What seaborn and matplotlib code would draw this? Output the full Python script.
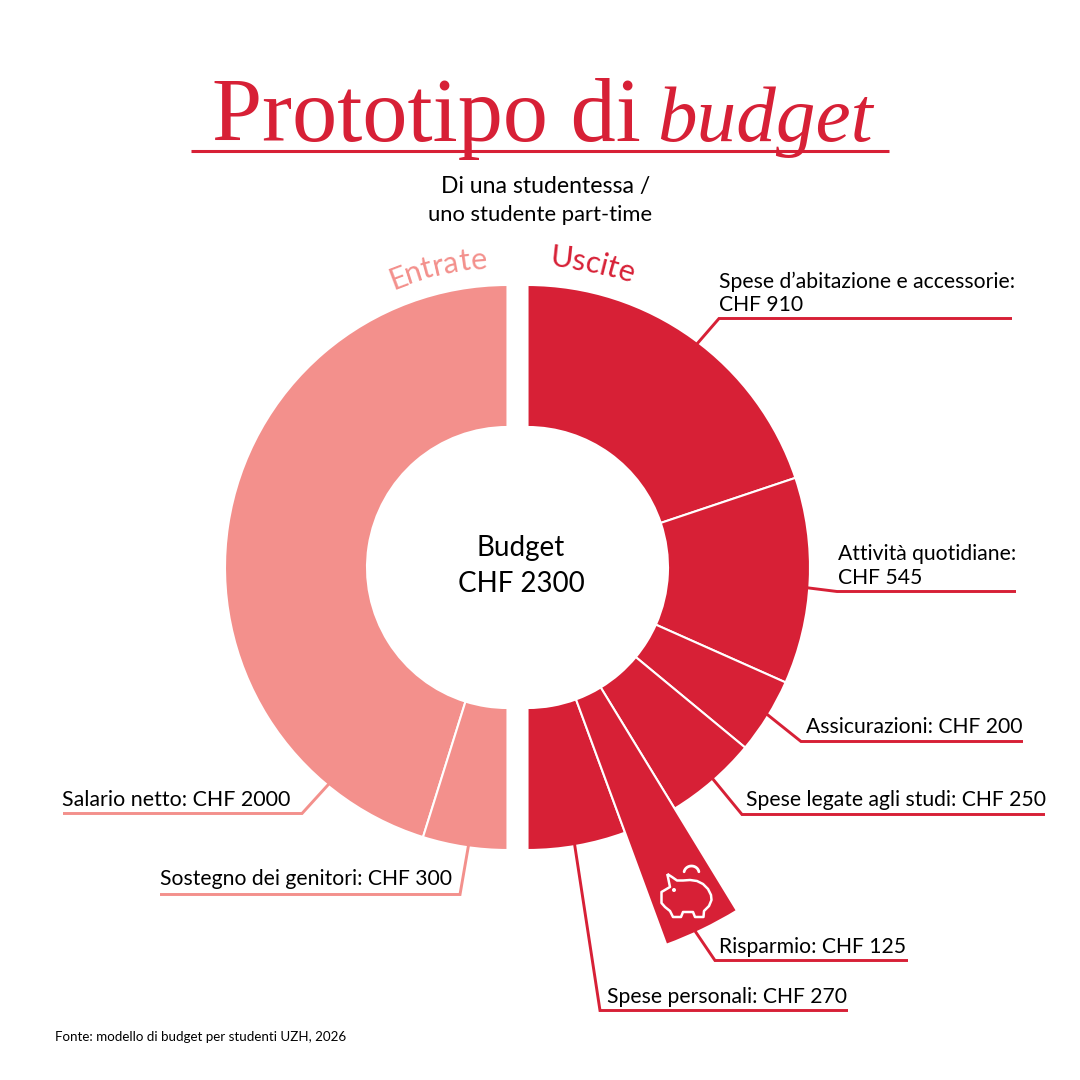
"""Budget donut chart, Entrate / Uscite halves drawn apart."""

import matplotlib
matplotlib.use("Agg")
import matplotlib.pyplot as plt
import seaborn as sns
from matplotlib.font_manager import FontProperties
from matplotlib.patches import Circle, PathPatch, Wedge
from matplotlib.path import Path
from matplotlib.textpath import TextPath
import numpy as np

# data
income_names = ["Salario netto", "Sostegno dei genitori"]
income_values = [2000, 300]
expense_names = ["Spese d’abitazione e accessorie", "Attività quotidiane", "Assicurazioni",
                 "Spese legate agli studi", "Risparmio", "Spese personali"]
expense_values = [910, 545, 200, 250, 125, 270]
# slice sizes as measured on the picture, in degrees (the original is not quite to scale)
income_sweep = [162.6, 17.4]
expense_sweep = [71.5, 42.5, 15.6, 19.0, 11.2, 20.2]

RED = "#D72036"
PINK = "#F3908C"
FONT = "Lato"

sns.set_theme(style="white")
plt.rcParams["font.family"] = [FONT, "DejaVu Sans"]

# radii and centres, in pixels of the 1080 canvas
R_IN, R_OUT, R_SAVINGS = 140.5, 282.5, 402
CY = 1080 - 567.5
CX_LEFT, CX_RIGHT = 507.5, 527.5


def y_(py):
    return 1080 - py


fig = plt.figure(figsize=(10.8, 10.8), dpi=100)
ax = fig.add_axes([0, 0, 1, 1])
ax.set_xlim(0, 1080)
ax.set_ylim(0, 1080)
ax.set_aspect("equal")
ax.axis("off")


def label(x, py, s, size=15.25, color="black", **kw):
    ax.text(x, y_(py + 1), s, fontsize=size, color=color, va="baseline", **kw)


def leader(points, color):
    xs, ys = zip(*points)
    ax.plot(xs, [y_(v + 0.5) for v in ys], color=color, lw=2.1, solid_capstyle="butt",
            solid_joinstyle="miter", zorder=4)


# ---- donut ----
start = 0
for sweep in income_sweep:
    end = start + sweep
    ax.add_patch(Wedge((CX_LEFT, CY), R_OUT, 90 + start, 90 + end, width=R_OUT - R_IN,
                       facecolor=PINK, edgecolor="white", lw=1.5, zorder=2))
    start = end

start = 0
for name, sweep in zip(expense_names, expense_sweep):
    end = start + sweep
    radius = R_SAVINGS if name == "Risparmio" else R_OUT
    ax.add_patch(Wedge((CX_RIGHT, CY), radius, 90 - end, 90 - start, width=radius - R_IN,
                       facecolor=RED, edgecolor="white", lw=1.5,
                       zorder=3 if name == "Risparmio" else 2))
    start = end

# ---- title ----
ax.text(212, y_(141), "Prototipo di", fontsize=65, color=RED, family="Liberation Serif", va="baseline")
ax.text(657, y_(141), "budget", fontsize=57, color=RED, family="Liberation Serif", style="italic", va="baseline")
ax.plot([191, 889], [y_(151), y_(151)], color=RED, lw=2.2, solid_capstyle="butt", zorder=0)

ax.text(546, y_(193), "Di una studentessa /", fontsize=16.6, color="black", ha="center", va="baseline")
ax.text(540, y_(221), "uno studente part-time", fontsize=15.8, color="black", ha="center", va="baseline")

label(521, 555, "Budget", size=20, ha="center")
label(521, 591, "CHF 2300", size=20, ha="center")

# ---- labels and leader lines ----
leader([(693, 348), (719, 318), (1012, 318)], RED)
label(719, 287, f"{expense_names[0]}:")
label(719, 310, f"CHF {expense_values[0]}")

leader([(805, 587), (837, 591), (1016, 591)], RED)
label(838, 559, f"{expense_names[1]}:")
label(838, 583, f"CHF {expense_values[1]}")

leader([(766, 713), (801, 741), (1023, 741)], RED)
label(806, 732, f"{expense_names[2]}: CHF {expense_values[2]}")

leader([(710, 775), (742, 814), (1045, 814)], RED)
label(746, 805, f"{expense_names[3]}: CHF {expense_values[3]}")

leader([(694, 929), (715, 960), (908, 960)], RED)
label(719, 952, f"{expense_names[4]}: CHF {expense_values[4]}")

leader([(574, 840), (600, 1010), (848, 1010)], RED)
label(607, 1002, f"{expense_names[5]}: CHF {expense_values[5]}")

leader([(63, 813), (302, 813), (332, 780)], PINK)
label(62, 805, f"{income_names[0]}: CHF {income_values[0]}", size=15.4)

leader([(160, 894), (460, 894), (469, 842)], PINK)
label(160, 884, f"{income_names[1]}: CHF {income_values[1]}")

label(55, 1040, "Fonte: modello di budget per studenti UZH, 2026", size=9.6)


# ---- curved headings ----
def curved(text, cx, cy, radius, mid_angle, size, color):
    """Place letters one by one along a circle; mid_angle in degrees from the top, clockwise."""
    fp = FontProperties(family=FONT, size=size)
    scale = 100 / 72
    widths = [TextPath((0, 0), c, prop=fp).get_extents().width * scale + 2.2 for c in text]
    pos = -sum(widths) / 2
    for c, w in zip(text, widths):
        a = mid_angle + np.degrees((pos + w / 2) / radius)
        x = cx + radius * np.sin(np.radians(a))
        y = cy + radius * np.cos(np.radians(a))
        ax.text(x, y, c, fontproperties=fp, color=color, rotation=-a, rotation_mode="anchor",
                ha="center", va="baseline")
        pos += w


curved("Entrate", CX_LEFT, CY, 300, -13, 22, PINK)
curved("Uscite", CX_RIGHT, CY, 302, 12.2, 22, RED)

# ---- piggy bank icon ----
pig_px = [(667.3, 874), (672, 877), (677, 880.5), (683, 880.5), (690, 880), (697, 881), (703, 884),
          (708, 889), (711, 895), (711.5, 900), (709, 906), (704, 911), (703.5, 917), (695, 917),
          (693, 912), (683, 912), (681, 917), (673, 917), (670, 911), (665, 907), (661.5, 903),
          (661.5, 892), (670, 887), (667.3, 874)]
ax.add_patch(PathPatch(Path([(x, y_(v)) for x, v in pig_px]), facecolor="none", edgecolor="white",
                       lw=1.8, joinstyle="round", zorder=5))
ax.add_patch(Circle((674, y_(890)), 2, facecolor="white", edgecolor="none", zorder=5))
coin_a = np.radians(np.linspace(10, 170, 20))
ax.plot(691.5 + 7.5 * np.cos(coin_a), y_(873) + 7 * np.sin(coin_a), color="white", lw=2, zorder=5)

fig.savefig("out.png", dpi=100, facecolor="white")
